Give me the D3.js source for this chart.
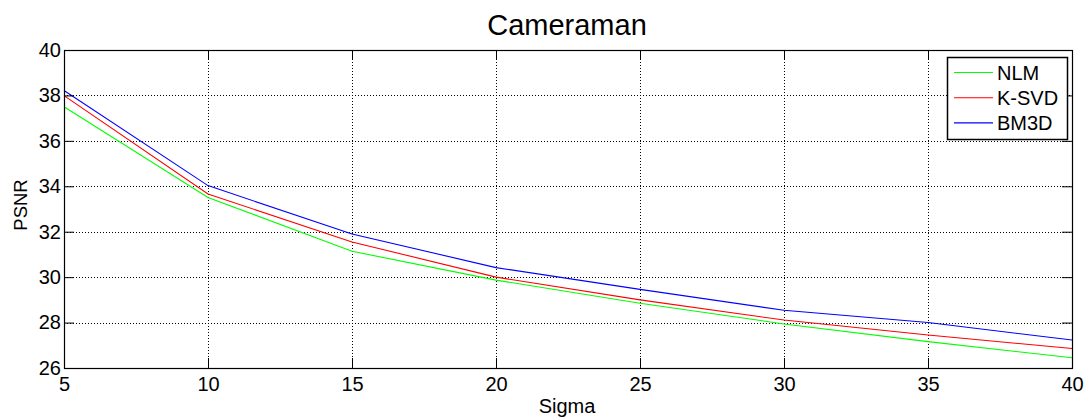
<!DOCTYPE html>
<html>
<head>
<meta charset="utf-8">
<script src="https://cdn.jsdelivr.net/npm/d3@7"></script>
<style>
  html, body { margin: 0; padding: 0; background: #fff; }
  svg { display: block; font-family: "Liberation Sans", Arial, Helvetica, sans-serif; }
</style>
</head>
<body>
<svg id="chart" width="1089" height="420"></svg>
<script>
// Denoising PSNR vs. noise level for the Cameraman image
const sigma = [5, 10, 15, 20, 25, 30, 35, 40];
const nlm   = [37.50, 33.51, 31.14, 29.87, 28.85, 27.94, 27.16, 26.45];
const ksvd  = [37.99, 33.66, 31.55, 30.00, 29.00, 28.11, 27.45, 26.86];
const bm3d  = [38.22, 34.03, 31.90, 30.42, 29.46, 28.54, 28.00, 27.23];
const seriesNames  = ["NLM", "K-SVD", "BM3D"];
const seriesColors = ["#00ff00", "#ff0000", "#0000ff"];
const xTicks = [5, 10, 15, 20, 25, 30, 35, 40];
const yTicks = [26, 28, 30, 32, 34, 36, 38, 40];

const series = [nlm, ksvd, bm3d];

const svg = d3.select("#chart");
const m = { left: 64, right: 1072, top: 50, bottom: 368 };

const x = d3.scaleLinear().domain([5, 40]).range([m.left, m.right]);
const y = d3.scaleLinear().domain([26, 40]).range([m.bottom, m.top]);

// dotted grid
const grid = svg.append("g");
grid.selectAll("line.gx").data(xTicks.slice(1, -1)).join("line")
  .attr("x1", d => Math.round(x(d)) + 0.5).attr("x2", d => Math.round(x(d)) + 0.5)
  .attr("y1", m.top).attr("y2", m.bottom)
  .attr("stroke", "#000").attr("stroke-width", 1).attr("stroke-dasharray", "1,2");
grid.selectAll("line.gy").data(yTicks.slice(1, -1)).join("line")
  .attr("y1", d => Math.round(y(d)) + 0.5).attr("y2", d => Math.round(y(d)) + 0.5)
  .attr("x1", m.left).attr("x2", m.right)
  .attr("stroke", "#000").attr("stroke-width", 1).attr("stroke-dasharray", "1,2");

// series lines
const line = d3.line().x((d, i) => x(sigma[i])).y(d => y(d));
svg.append("g").selectAll("path").data(series).join("path")
  .attr("d", d => line(d))
  .attr("fill", "none")
  .attr("stroke", (d, i) => seriesColors[i])
  .attr("stroke-width", 1.1);

// axes with inward ticks, drawn on all four sides
const tickLen = 10;
const bottomAxis = d3.axisBottom(x).tickValues(xTicks).tickSizeInner(-tickLen).tickSizeOuter(0).tickPadding(9);
const leftAxis = d3.axisLeft(y).tickValues(yTicks).tickSizeInner(-tickLen).tickSizeOuter(0).tickPadding(3);
const topAxis = d3.axisTop(x).tickValues(xTicks).tickSizeInner(-tickLen).tickSizeOuter(0).tickFormat("");
const rightAxis = d3.axisRight(y).tickValues(yTicks).tickSizeInner(-tickLen).tickSizeOuter(0).tickFormat("");

function styleAxis(g) {
  g.select(".domain").remove();
  g.selectAll(".tick line").attr("stroke", "#000");
  g.selectAll(".tick text").attr("fill", "#000").attr("font-size", 20)
    .attr("font-family", "'Liberation Sans', Arial, sans-serif");
}
svg.append("g").attr("transform", `translate(0,${m.bottom})`).call(bottomAxis).call(styleAxis);
svg.append("g").attr("transform", `translate(${m.left},0)`).call(leftAxis).call(styleAxis);
svg.append("g").attr("transform", `translate(0,${m.top})`).call(topAxis).call(styleAxis);
svg.append("g").attr("transform", `translate(${m.right},0)`).call(rightAxis).call(styleAxis);

// axes box
svg.append("rect")
  .attr("x", m.left + 0.5).attr("y", m.top + 0.5)
  .attr("width", m.right - m.left).attr("height", m.bottom - m.top)
  .attr("fill", "none").attr("stroke", "#000").attr("stroke-width", 1.2);

// title and axis labels
svg.append("text").attr("x", 567).attr("y", 35)
  .attr("text-anchor", "middle").attr("font-size", 29).attr("fill", "#000").text("Cameraman");
svg.append("text").attr("x", 567).attr("y", 413)
  .attr("text-anchor", "middle").attr("font-size", 20).attr("fill", "#000").text("Sigma");
svg.append("text")
  .attr("transform", `translate(27,205) rotate(-90)`)
  .attr("text-anchor", "middle").attr("font-size", 18.5).attr("fill", "#000").text("PSNR");

// legend
const lg = svg.append("g").attr("transform", "translate(947,57)");
lg.append("rect").attr("x", 0.5).attr("y", 0.5).attr("width", 120).attr("height", 82)
  .attr("fill", "#fff").attr("stroke", "#000").attr("stroke-width", 1.5);
const rows = lg.selectAll("g.row").data(seriesNames).join("g")
  .attr("transform", (d, i) => `translate(0,${15.5 + i * 25.2})`);
rows.append("line").attr("x1", 7).attr("x2", 46).attr("y1", 0).attr("y2", 0)
  .attr("stroke", (d, i) => seriesColors[i]).attr("stroke-width", 1.1);
rows.append("text").attr("x", 50).attr("y", 7.5).attr("font-size", 20).attr("fill", "#000").text(d => d);
</script>
</body>
</html>
